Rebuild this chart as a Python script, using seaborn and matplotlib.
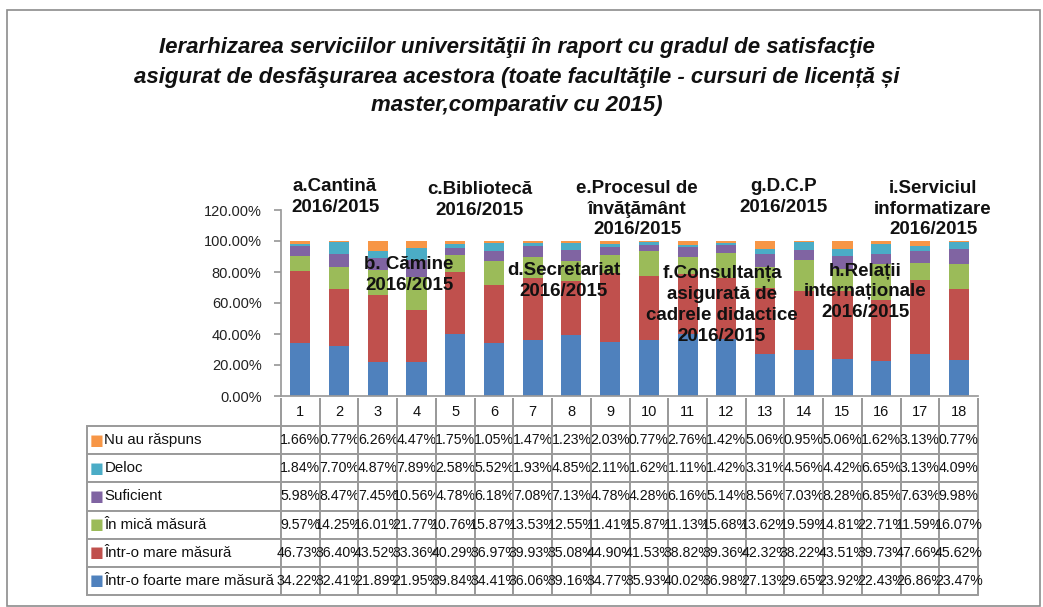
import matplotlib
matplotlib.use("Agg")
import matplotlib.pyplot as plt
import seaborn as sns
import numpy as np
import pandas as pd
from matplotlib.patches import Rectangle

# ---------------- data ----------------
columns = [str(i) for i in range(1, 19)]
series_names = ["Nu au răspuns", "Deloc", "Suficient", "În mică măsură",
                "Într-o mare măsură", "Într-o foarte mare măsură"]
nu_au_raspuns = [1.66, 0.77, 6.26, 4.47, 1.75, 1.05, 1.47, 1.23, 2.03, 0.77, 2.76, 1.42, 5.06, 0.95, 5.06, 1.62, 3.13, 0.77]
deloc = [1.84, 7.70, 4.87, 7.89, 2.58, 5.52, 1.93, 4.85, 2.11, 1.62, 1.11, 1.42, 3.31, 4.56, 4.42, 6.65, 3.13, 4.09]
suficient = [5.98, 8.47, 7.45, 10.56, 4.78, 6.18, 7.08, 7.13, 4.78, 4.28, 6.16, 5.14, 8.56, 7.03, 8.28, 6.85, 7.63, 9.98]
in_mica_masura = [9.57, 14.25, 16.01, 21.77, 10.76, 15.87, 13.53, 12.55, 11.41, 15.87, 11.13, 15.68, 13.62, 19.59, 14.81, 22.71, 11.59, 16.07]
intr_o_mare_masura = [46.73, 36.40, 43.52, 33.36, 40.29, 36.97, 39.93, 35.08, 44.90, 41.53, 38.82, 39.36, 42.32, 38.22, 43.51, 39.73, 47.66, 45.62]
intr_o_foarte_mare = [34.22, 32.41, 21.89, 21.95, 39.84, 34.41, 36.06, 39.16, 34.77, 35.93, 40.02, 36.98, 27.13, 29.65, 23.92, 22.43, 26.86, 23.47]
series_values = [nu_au_raspuns, deloc, suficient, in_mica_masura, intr_o_mare_masura, intr_o_foarte_mare]
colors = ["#F79646", "#4BACC6", "#8064A2", "#9BBB59", "#C0504D", "#4F81BD"]

category_labels = ["a.Cantină\n2016/2015", "b. Cămine\n2016/2015", "c.Bibliotecă\n2016/2015",
                   "d.Secretariat\n2016/2015", "e.Procesul de\nînvăţământ\n2016/2015",
                   "f.Consultanța\nasigurată de\ncadrele didactice\n2016/2015",
                   "g.D.C.P\n2016/2015", "h.Relații\ninternaționale\n2016/2015",
                   "i.Serviciul\ninformatizare\n2016/2015"]
label_pos_px = [(335, 197), (409, 275), (480, 200), (564, 281), (637, 209),
                (722, 305), (784, 197), (865, 292), (933, 209)]

title = ("Ierarhizarea serviciilor universităţii în raport cu gradul de satisfacţie\n"
         "asigurat de desfăşurarea acestora (toate facultăţile - cursuri de licență și\n"
         "master,comparativ cu 2015)")
yticks = [0, 20, 40, 60, 80, 100, 120]

# ---------------- figure ----------------
sns.set_theme(style="white")
plt.rcParams['font.family'] = ['Liberation Sans', 'DejaVu Sans']

W, H = 1043, 607
fig = plt.figure(figsize=(W / 100, H / 100), dpi=100)
fig.patch.set_facecolor("white")

def fx(px):
    return px / W

def fy(py):
    return 1 - py / H

# outer frame
fig.add_artist(Rectangle((fx(7), fy(606)), fx(1040) - fx(7), fy(10) - fy(606),
                         transform=fig.transFigure, fill=False, edgecolor="#8c8c8c", lw=1.2))

ax_left, ax_right, ax_top, ax_bot = 281, 978, 210, 396
ax = fig.add_axes([fx(ax_left), fy(ax_bot), fx(ax_right) - fx(ax_left), fy(ax_top) - fy(ax_bot)])

df = pd.DataFrame({"col": columns})
cum = np.zeros(len(columns))
cums = []
for vals in series_values[::-1]:
    cum = cum + np.array(vals)
    cums.append(cum.copy())
for k in range(len(cums) - 1, -1, -1):
    d = df.copy()
    d["v"] = cums[k]
    sns.barplot(data=d, x="col", y="v", color=colors[::-1][k], saturation=1,
                width=0.52, ax=ax, order=columns, linewidth=0)

ax.set_xlim(-0.5, 17.5)
ax.set_ylim(0, 120)
ax.set_yticks(yticks)
ax.set_yticklabels([f"{t:.2f}%" for t in yticks], fontsize=10.5, color="#222222")
ax.set_xticks([])
ax.set_xlabel("")
ax.set_ylabel("")
for s in ["top", "right"]:
    ax.spines[s].set_visible(False)
ax.spines["left"].set_color("#9a9a9a")
ax.spines["bottom"].set_color("#9a9a9a")
ax.tick_params(axis="y", left=True, length=5, color="#9a9a9a", pad=9)
ax.set_facecolor("none")

# title
fig.text(fx(517), fy(77), title, ha="center", va="center", fontsize=16,
         fontweight="bold", fontstyle="italic", linespacing=1.5, color="#111111")

# category annotations
for lab, (px, py) in zip(category_labels, label_pos_px):
    fig.text(fx(px), fy(py), lab, ha="center", va="center", fontsize=13.5,
             fontweight="bold", linespacing=1.3, color="#111111")

# ---------------- data table ----------------
tab_left, tab_top, tab_bot = 87, 398, 595
label_w = ax_left - tab_left
col_w = (ax_right - ax_left) / 18
cell_text = [[""] + columns]
for name, vals in zip(series_names, series_values):
    cell_text.append([name] + [f"{v:.2f}%" for v in vals])

tax = fig.add_axes([0, 0, 1, 1])
tax.set_axis_off()
tax.set_xlim(0, 1)
tax.set_ylim(0, 1)
tbl = tax.table(cellText=cell_text, cellLoc="center",
                colWidths=[label_w] + [col_w] * 18,
                bbox=[fx(tab_left), fy(tab_bot), fx(ax_right) - fx(tab_left), fy(tab_top) - fy(tab_bot)])
tbl.auto_set_font_size(False)
for (r, c), cell in tbl.get_celld().items():
    cell.set_edgecolor("#9a9a9a")
    cell.set_linewidth(1.4)
    cell.get_text().set_fontsize(10.2)
    cell.get_text().set_color("#111111")
    if r == 0:
        cell.visible_edges = "" if c == 0 else "LR"
        cell.get_text().set_fontsize(10.5)
    if c == 0 and r > 0:
        cell._loc = "left"
        cell.get_text().set_ha("left")
        cell.PAD = 0.09
        cell.get_text().set_fontsize(10.8)

n_rows = len(cell_text)
row_h = (tab_bot - tab_top) / n_rows
for k, colr in enumerate(colors):
    yc = tab_top + row_h * (k + 1.5)
    fig.text(fx(96.5), fy(yc), "■", color=colr, ha="center", va="center", fontsize=10.5,
             family=['DejaVu Sans'])

fig.savefig("out.png", dpi=100)
